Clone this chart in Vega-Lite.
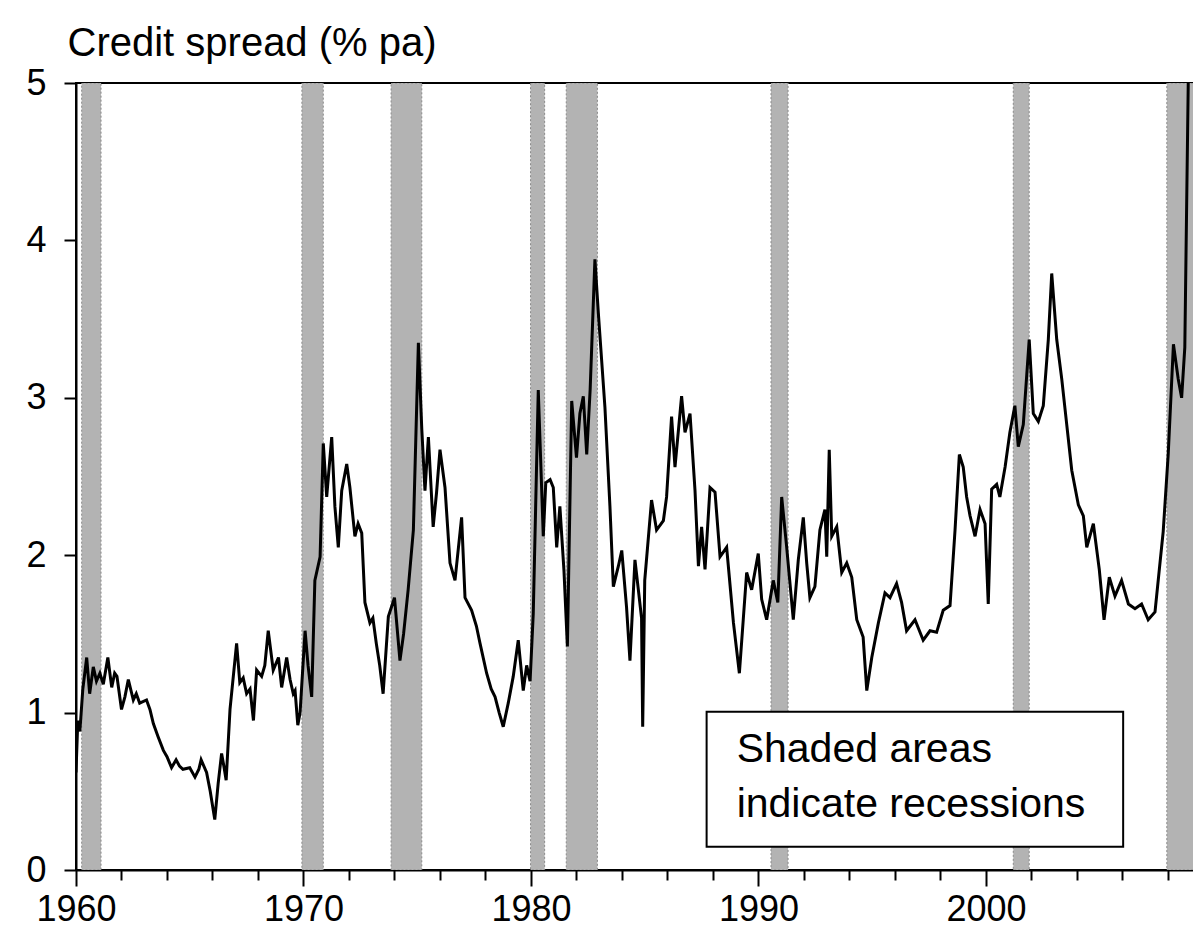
{
  "$schema": "https://vega.github.io/schema/vega-lite/v6.json",
  "width": 1117,
  "height": 787,
  "autosize": {"type": "none"},
  "padding": {"left": 76, "top": 83, "right": 0, "bottom": 69},
  "background": "white",
  "config": {"view": {"stroke": "black", "strokeWidth": 2}, "font": "Liberation Sans"},
  "datasets": {
    "recessions": [
      {"start": 1960.25, "end": 1961.1},
      {"start": 1969.93, "end": 1970.87},
      {"start": 1973.85, "end": 1975.2},
      {"start": 1979.98, "end": 1980.6},
      {"start": 1981.55, "end": 1982.92},
      {"start": 1990.55, "end": 1991.3},
      {"start": 2001.2, "end": 2001.9},
      {"start": 2007.95, "end": 2009.6}
    ],
    "spread": [
      {"t": 1960.0, "v": 0.62}, {"t": 1960.08, "v": 0.95}, {"t": 1960.17, "v": 0.88}, {"t": 1960.3, "v": 1.15},
      {"t": 1960.47, "v": 1.35}, {"t": 1960.6, "v": 1.12}, {"t": 1960.76, "v": 1.29}, {"t": 1960.9, "v": 1.2},
      {"t": 1961.05, "v": 1.25}, {"t": 1961.2, "v": 1.18}, {"t": 1961.4, "v": 1.35}, {"t": 1961.57, "v": 1.16},
      {"t": 1961.7, "v": 1.25}, {"t": 1961.8, "v": 1.23}, {"t": 1962.0, "v": 1.02}, {"t": 1962.15, "v": 1.1},
      {"t": 1962.3, "v": 1.21}, {"t": 1962.52, "v": 1.08}, {"t": 1962.65, "v": 1.12}, {"t": 1962.8, "v": 1.06},
      {"t": 1963.1, "v": 1.08}, {"t": 1963.25, "v": 1.02}, {"t": 1963.4, "v": 0.93}, {"t": 1963.6, "v": 0.85},
      {"t": 1963.84, "v": 0.76}, {"t": 1964.0, "v": 0.72}, {"t": 1964.2, "v": 0.65}, {"t": 1964.4, "v": 0.7},
      {"t": 1964.55, "v": 0.66}, {"t": 1964.7, "v": 0.64}, {"t": 1965.0, "v": 0.65}, {"t": 1965.23, "v": 0.59},
      {"t": 1965.4, "v": 0.64}, {"t": 1965.5, "v": 0.7}, {"t": 1965.74, "v": 0.62}, {"t": 1965.9, "v": 0.5},
      {"t": 1966.1, "v": 0.32}, {"t": 1966.25, "v": 0.55}, {"t": 1966.4, "v": 0.74}, {"t": 1966.5, "v": 0.66},
      {"t": 1966.6, "v": 0.57}, {"t": 1966.77, "v": 1.02}, {"t": 1967.06, "v": 1.44}, {"t": 1967.2, "v": 1.19},
      {"t": 1967.35, "v": 1.22}, {"t": 1967.5, "v": 1.12}, {"t": 1967.65, "v": 1.15}, {"t": 1967.8, "v": 0.95},
      {"t": 1967.94, "v": 1.27}, {"t": 1968.16, "v": 1.23}, {"t": 1968.3, "v": 1.3}, {"t": 1968.45, "v": 1.52},
      {"t": 1968.67, "v": 1.27}, {"t": 1968.9, "v": 1.35}, {"t": 1969.04, "v": 1.16}, {"t": 1969.26, "v": 1.35},
      {"t": 1969.41, "v": 1.21}, {"t": 1969.55, "v": 1.12}, {"t": 1969.63, "v": 1.14}, {"t": 1969.75, "v": 0.92},
      {"t": 1969.85, "v": 1.0}, {"t": 1970.07, "v": 1.52}, {"t": 1970.2, "v": 1.3}, {"t": 1970.36, "v": 1.1},
      {"t": 1970.5, "v": 1.84}, {"t": 1970.73, "v": 1.99}, {"t": 1970.87, "v": 2.71}, {"t": 1971.02, "v": 2.37},
      {"t": 1971.24, "v": 2.75}, {"t": 1971.38, "v": 2.31}, {"t": 1971.53, "v": 2.05}, {"t": 1971.68, "v": 2.41},
      {"t": 1971.9, "v": 2.58}, {"t": 1972.04, "v": 2.43}, {"t": 1972.26, "v": 2.12}, {"t": 1972.4, "v": 2.2},
      {"t": 1972.56, "v": 2.14}, {"t": 1972.7, "v": 1.7}, {"t": 1972.92, "v": 1.57}, {"t": 1973.05, "v": 1.6},
      {"t": 1973.2, "v": 1.44}, {"t": 1973.35, "v": 1.3}, {"t": 1973.5, "v": 1.12}, {"t": 1973.73, "v": 1.61},
      {"t": 1974.0, "v": 1.73}, {"t": 1974.24, "v": 1.33}, {"t": 1974.4, "v": 1.5}, {"t": 1974.6, "v": 1.78},
      {"t": 1974.83, "v": 2.16}, {"t": 1975.05, "v": 3.35}, {"t": 1975.2, "v": 2.8}, {"t": 1975.34, "v": 2.41},
      {"t": 1975.49, "v": 2.75}, {"t": 1975.7, "v": 2.18}, {"t": 1975.85, "v": 2.4}, {"t": 1976.0, "v": 2.67},
      {"t": 1976.22, "v": 2.43}, {"t": 1976.44, "v": 1.95}, {"t": 1976.66, "v": 1.84}, {"t": 1976.95, "v": 2.24},
      {"t": 1977.1, "v": 1.73}, {"t": 1977.39, "v": 1.65}, {"t": 1977.6, "v": 1.55}, {"t": 1977.76, "v": 1.44},
      {"t": 1978.05, "v": 1.25}, {"t": 1978.25, "v": 1.15}, {"t": 1978.42, "v": 1.1}, {"t": 1978.6, "v": 1.0},
      {"t": 1978.78, "v": 0.91}, {"t": 1979.0, "v": 1.06}, {"t": 1979.22, "v": 1.23}, {"t": 1979.44, "v": 1.46},
      {"t": 1979.66, "v": 1.14}, {"t": 1979.81, "v": 1.3}, {"t": 1979.96, "v": 1.2}, {"t": 1980.1, "v": 1.63},
      {"t": 1980.32, "v": 3.05}, {"t": 1980.45, "v": 2.5}, {"t": 1980.54, "v": 2.12}, {"t": 1980.65, "v": 2.46},
      {"t": 1980.84, "v": 2.48}, {"t": 1980.98, "v": 2.43}, {"t": 1981.13, "v": 2.05}, {"t": 1981.27, "v": 2.31},
      {"t": 1981.45, "v": 1.9}, {"t": 1981.6, "v": 1.42}, {"t": 1981.79, "v": 2.98}, {"t": 1982.0, "v": 2.62},
      {"t": 1982.15, "v": 2.9}, {"t": 1982.3, "v": 3.01}, {"t": 1982.45, "v": 2.64}, {"t": 1982.6, "v": 3.05},
      {"t": 1982.81, "v": 3.88}, {"t": 1982.96, "v": 3.54}, {"t": 1983.25, "v": 2.94}, {"t": 1983.47, "v": 2.31},
      {"t": 1983.62, "v": 1.8}, {"t": 1983.84, "v": 1.93}, {"t": 1983.99, "v": 2.03}, {"t": 1984.2, "v": 1.67},
      {"t": 1984.35, "v": 1.33}, {"t": 1984.57, "v": 1.97}, {"t": 1984.72, "v": 1.78}, {"t": 1984.86, "v": 1.6},
      {"t": 1984.91, "v": 0.91}, {"t": 1985.0, "v": 1.84}, {"t": 1985.3, "v": 2.35}, {"t": 1985.52, "v": 2.16},
      {"t": 1985.82, "v": 2.22}, {"t": 1985.96, "v": 2.37}, {"t": 1986.18, "v": 2.88}, {"t": 1986.33, "v": 2.56},
      {"t": 1986.62, "v": 3.01}, {"t": 1986.77, "v": 2.78}, {"t": 1986.99, "v": 2.9}, {"t": 1987.21, "v": 2.41},
      {"t": 1987.36, "v": 1.93}, {"t": 1987.5, "v": 2.18}, {"t": 1987.65, "v": 1.91}, {"t": 1987.87, "v": 2.43},
      {"t": 1988.09, "v": 2.4}, {"t": 1988.31, "v": 1.99}, {"t": 1988.6, "v": 2.05}, {"t": 1988.9, "v": 1.57},
      {"t": 1989.16, "v": 1.25}, {"t": 1989.33, "v": 1.59}, {"t": 1989.48, "v": 1.89}, {"t": 1989.7, "v": 1.78},
      {"t": 1989.99, "v": 2.01}, {"t": 1990.14, "v": 1.72}, {"t": 1990.36, "v": 1.59}, {"t": 1990.65, "v": 1.84},
      {"t": 1990.85, "v": 1.7}, {"t": 1991.02, "v": 2.37}, {"t": 1991.24, "v": 2.05}, {"t": 1991.53, "v": 1.59},
      {"t": 1991.75, "v": 1.97}, {"t": 1991.97, "v": 2.24}, {"t": 1992.12, "v": 1.95}, {"t": 1992.26, "v": 1.73},
      {"t": 1992.48, "v": 1.8}, {"t": 1992.7, "v": 2.16}, {"t": 1992.92, "v": 2.29}, {"t": 1993.0, "v": 1.99},
      {"t": 1993.11, "v": 2.67}, {"t": 1993.22, "v": 2.12}, {"t": 1993.44, "v": 2.18}, {"t": 1993.66, "v": 1.89},
      {"t": 1993.88, "v": 1.95}, {"t": 1994.1, "v": 1.86}, {"t": 1994.32, "v": 1.59}, {"t": 1994.6, "v": 1.48},
      {"t": 1994.76, "v": 1.14}, {"t": 1994.98, "v": 1.35}, {"t": 1995.27, "v": 1.57}, {"t": 1995.56, "v": 1.76},
      {"t": 1995.78, "v": 1.73}, {"t": 1996.07, "v": 1.82}, {"t": 1996.29, "v": 1.7}, {"t": 1996.51, "v": 1.52},
      {"t": 1996.88, "v": 1.59}, {"t": 1997.24, "v": 1.46}, {"t": 1997.54, "v": 1.52}, {"t": 1997.83, "v": 1.51},
      {"t": 1998.12, "v": 1.65}, {"t": 1998.42, "v": 1.68}, {"t": 1998.64, "v": 2.16}, {"t": 1998.83, "v": 2.64},
      {"t": 1999.0, "v": 2.56}, {"t": 1999.15, "v": 2.37}, {"t": 1999.3, "v": 2.25}, {"t": 1999.52, "v": 2.12},
      {"t": 1999.74, "v": 2.29}, {"t": 1999.96, "v": 2.2}, {"t": 2000.1, "v": 1.69}, {"t": 2000.25, "v": 2.42},
      {"t": 2000.47, "v": 2.45}, {"t": 2000.61, "v": 2.37}, {"t": 2000.84, "v": 2.56}, {"t": 2001.05, "v": 2.78},
      {"t": 2001.27, "v": 2.95}, {"t": 2001.42, "v": 2.69}, {"t": 2001.64, "v": 2.83}, {"t": 2001.9, "v": 3.37},
      {"t": 2002.08, "v": 2.9}, {"t": 2002.3, "v": 2.85}, {"t": 2002.52, "v": 2.95}, {"t": 2002.74, "v": 3.37},
      {"t": 2002.89, "v": 3.79}, {"t": 2003.11, "v": 3.37}, {"t": 2003.33, "v": 3.12}, {"t": 2003.55, "v": 2.83},
      {"t": 2003.77, "v": 2.54}, {"t": 2004.06, "v": 2.32}, {"t": 2004.28, "v": 2.25}, {"t": 2004.43, "v": 2.05},
      {"t": 2004.72, "v": 2.2}, {"t": 2004.98, "v": 1.91}, {"t": 2005.19, "v": 1.59}, {"t": 2005.42, "v": 1.86},
      {"t": 2005.67, "v": 1.74}, {"t": 2005.96, "v": 1.84}, {"t": 2006.26, "v": 1.69}, {"t": 2006.55, "v": 1.66},
      {"t": 2006.84, "v": 1.69}, {"t": 2007.13, "v": 1.59}, {"t": 2007.43, "v": 1.64}, {"t": 2007.62, "v": 1.91},
      {"t": 2007.79, "v": 2.15}, {"t": 2008.01, "v": 2.64}, {"t": 2008.24, "v": 3.34}, {"t": 2008.45, "v": 3.12},
      {"t": 2008.6, "v": 3.0}, {"t": 2008.74, "v": 3.32}, {"t": 2008.89, "v": 4.99}, {"t": 2008.95, "v": 5.6}
    ]
  },
  "layer": [
    {
      "data": {"name": "recessions"},
      "mark": {"type": "rect", "fill": "#b3b3b3", "stroke": "#8a8a8a", "strokeWidth": 1, "strokeDash": [2, 2], "clip": true},
      "encoding": {
        "x": {"field": "start", "type": "quantitative", "scale": {"domain": [1960, 2009.1], "nice": false, "zero": false},
          "axis": {
            "title": null,
            "values": [1960,1961,1962,1963,1964,1965,1966,1967,1968,1969,1970,1971,1972,1973,1974,1975,1976,1977,1978,1979,1980,1981,1982,1983,1984,1985,1986,1987,1988,1989,1990,1991,1992,1993,1994,1995,1996,1997,1998,1999,2000,2001,2002,2003,2004,2005,2006,2007,2008,2009],
            "labelExpr": "datum.value % 10 === 0 ? '' + datum.value : ''",
            "tickSize": {"condition": {"test": "datum.value % 10 === 0", "value": 16}, "value": 10},
            "tickColor": "black", "tickWidth": 2,
            "domainColor": "black", "domainWidth": 2,
            "labelFontSize": 36, "labelColor": "black", "labelFont": "Liberation Sans",
            "labelPadding": 6, "labelFlush": false, "labelOverlap": false, "grid": false
          }
        },
        "x2": {"field": "end"},
        "y": {"datum": 0, "type": "quantitative", "scale": {"domain": [0, 5], "nice": false},
          "axis": {
            "title": "Credit spread (% pa)",
            "titleAngle": 0, "titleAlign": "left", "titleBaseline": "alphabetic",
            "titleX": -9, "titleY": -28, "titleFontSize": 40, "titleFontWeight": "normal",
            "titleColor": "black", "titleFont": "Liberation Sans",
            "values": [0, 1, 2, 3, 4, 5],
            "format": "d",
            "tickSize": 12, "tickColor": "black", "tickWidth": 2,
            "domainColor": "black", "domainWidth": 2,
            "labelFontSize": 36, "labelColor": "black", "labelFont": "Liberation Sans",
            "labelPadding": 18, "grid": false
          }
        },
        "y2": {"datum": 5}
      }
    },
    {
      "data": {"name": "spread"},
      "mark": {"type": "line", "color": "black", "strokeWidth": 3, "clip": true, "interpolate": "linear"},
      "encoding": {
        "x": {"field": "t", "type": "quantitative"},
        "y": {"field": "v", "type": "quantitative"}
      }
    },
    {
      "data": {"values": [{}]},
      "mark": {"type": "rect", "fill": "white", "stroke": "black", "strokeWidth": 2},
      "encoding": {
        "x": {"datum": 1987.72, "type": "quantitative"},
        "x2": {"datum": 2006.03},
        "y": {"datum": 1.006, "type": "quantitative"},
        "y2": {"datum": 0.148}
      }
    },
    {
      "data": {"values": [{}]},
      "mark": {"type": "text", "text": "Shaded areas", "align": "left", "baseline": "alphabetic", "fontSize": 41, "font": "Liberation Sans", "color": "black"},
      "encoding": {
        "x": {"datum": 1989.04, "type": "quantitative"},
        "y": {"datum": 0.688, "type": "quantitative"}
      }
    },
    {
      "data": {"values": [{}]},
      "mark": {"type": "text", "text": "indicate recessions", "align": "left", "baseline": "alphabetic", "fontSize": 41, "font": "Liberation Sans", "color": "black"},
      "encoding": {
        "x": {"datum": 1989.04, "type": "quantitative"},
        "y": {"datum": 0.338, "type": "quantitative"}
      }
    }
  ]
}
